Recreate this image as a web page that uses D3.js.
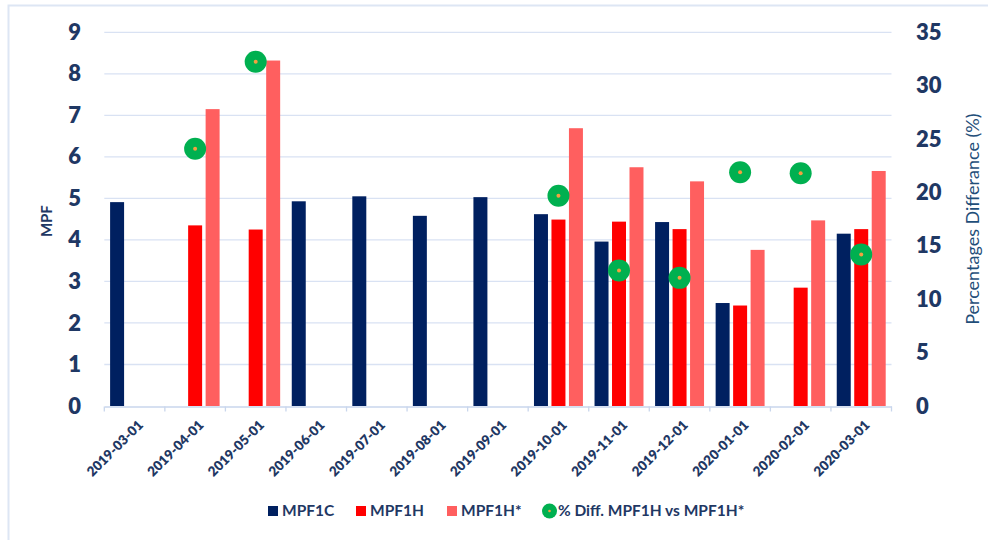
<!DOCTYPE html>
<html>
<head>
<meta charset="utf-8">
<script src="https://cdn.jsdelivr.net/npm/d3@7"></script>
<style>
  html, body { margin: 0; padding: 0; background: #fff; }
  svg { display: block; }
  text { font-family: Lato, "Open Sans", "Noto Sans", sans-serif; }
</style>
</head>
<body>
<svg id="chart" width="988" height="540"></svg>
<script>
// Monthly MPF values per method and the percentage gap between MPF1H and MPF1H*
const months = ["2019-03-01","2019-04-01","2019-05-01","2019-06-01","2019-07-01","2019-08-01","2019-09-01",
                "2019-10-01","2019-11-01","2019-12-01","2020-01-01","2020-02-01","2020-03-01"];
const mpf1c     = [4.91, null, null, 4.93, 5.05, 4.58, 5.03, 4.62, 3.96, 4.43, 2.48, null, 4.15];
const mpf1h     = [null, 4.35, 4.25, null, null, null, null, 4.49, 4.44, 4.26, 2.42, 2.85, 4.26];
const mpf1hStar = [null, 7.15, 8.32, null, null, null, null, 6.69, 5.75, 5.41, 3.76, 4.47, 5.66];
const pctDiff   = [null, 24.1, 32.25, null, null, null, null, 19.7, 12.7, 12.0, 21.9, 21.8, 14.2];
const leftTicks  = [0,1,2,3,4,5,6,7,8,9];
const rightTicks = [0,5,10,15,20,25,30,35];
const seriesNames = ["MPF1C", "MPF1H", "MPF1H*"];
const diffName = "% Diff. MPF1H vs MPF1H*";

const colors = { MPF1C: "#002060", MPF1H: "#ff0000", "MPF1H*": "#ff5f5f" };
const textColor = "#1f3864";
const gridColor = "#d9e2f3";

const svg = d3.select("#chart");
const plot = { left: 104.3, right: 891.5, top: 32.3, bottom: 406 };

// outer frame
svg.append("path")
  .attr("d", `M8.5,540 V5.5 H988`)
  .attr("fill", "none").attr("stroke", "#dde6f4").attr("stroke-width", 2);

const x = d3.scaleBand().domain(months).range([plot.left, plot.right]).paddingInner(0).paddingOuter(0);
const y = d3.scaleLinear().domain([0, 9]).range([plot.bottom, plot.top]);
const y2 = d3.scaleLinear().domain([0, 35]).range([plot.bottom, plot.top]);

// bars within each month slot
const groupInset = 5.8;
const xs = d3.scaleBand().domain(seriesNames)
  .range([groupInset, x.bandwidth() - groupInset]).paddingInner(0.2).paddingOuter(0);

// gridlines
svg.append("g").selectAll("line").data(leftTicks.filter(d => d > 0)).join("line")
  .attr("x1", plot.left).attr("x2", plot.right)
  .attr("y1", d => y(d)).attr("y2", d => y(d))
  .attr("stroke", gridColor).attr("stroke-width", 1.3);

// left axis labels
const leftAxis = d3.axisLeft(y).tickValues(leftTicks).tickSize(0).tickPadding(0).tickFormat(d3.format("d"));
const gl = svg.append("g").attr("transform", `translate(81,0)`).call(leftAxis);
gl.select(".domain").remove();
gl.selectAll("text").attr("fill", textColor).attr("font-size", 22).attr("font-weight", 800)
  .attr("font-family", "Lato, sans-serif");

// right axis labels
const rightAxis = d3.axisRight(y2).tickValues(rightTicks).tickSize(0).tickPadding(0).tickFormat(d3.format("d"));
const gr = svg.append("g").attr("transform", `translate(916,0)`).call(rightAxis);
gr.select(".domain").remove();
gr.selectAll("text").attr("fill", textColor).attr("font-size", 22).attr("font-weight", 800)
  .attr("font-family", "Lato, sans-serif");

// axis titles
svg.append("text").attr("transform", `translate(52,${(plot.top + plot.bottom) / 2 + 2}) rotate(-90)`)
  .attr("text-anchor", "middle").attr("fill", textColor).attr("font-size", 15).attr("font-weight", 700)
  .text("MPF");
svg.append("text").attr("transform", `translate(979,${(plot.top + plot.bottom) / 2}) rotate(-90)`)
  .attr("text-anchor", "middle").attr("fill", "#1f4e79").attr("font-size", 18)
  .text("Percentages Differance (%)");

// bars
const barData = [];
months.forEach((m, i) => {
  [[seriesNames[0], mpf1c[i]], [seriesNames[1], mpf1h[i]], [seriesNames[2], mpf1hStar[i]]].forEach(([s, v]) => {
    if (v != null) barData.push({ m, s, v });
  });
});
svg.append("g").selectAll("rect").data(barData).join("rect")
  .attr("x", d => x(d.m) + xs(d.s))
  .attr("width", xs.bandwidth())
  .attr("y", d => y(d.v))
  .attr("height", d => y(0) - y(d.v))
  .attr("fill", d => colors[d.s]);

// category axis line and ticks
const bottomAxis = d3.axisBottom(x).tickSize(0).tickFormat(d => d);
const gb = svg.append("g").attr("transform", `translate(0,${plot.bottom + 0.5})`).call(bottomAxis);
gb.select(".domain").attr("stroke", "#c9d6ec").attr("stroke-width", 1.3);
gb.selectAll(".tick line").remove();
gb.selectAll(".boundary").data(d3.range(months.length + 1)).join("line")
  .attr("x1", i => plot.left + i * x.bandwidth()).attr("x2", i => plot.left + i * x.bandwidth())
  .attr("y1", 0).attr("y2", 5).attr("stroke", "#c9d6ec").attr("stroke-width", 1.3);
gb.selectAll(".tick text")
  .attr("fill", textColor).attr("font-size", 13.5).attr("font-weight", 800)
  .attr("text-anchor", "end")
  .attr("transform", "translate(6,16) rotate(-45)")
  .attr("dy", "0.35em").attr("y", 0).attr("x", 0);

// percentage difference markers
const dots = months.map((m, i) => ({ m, v: pctDiff[i] })).filter(d => d.v != null);
const dg = svg.append("g");
dg.selectAll("circle.outer").data(dots).join("circle").attr("class", "outer")
  .attr("cx", d => x(d.m) + x.bandwidth() / 2).attr("cy", d => y2(d.v))
  .attr("r", 11).attr("fill", "#00b050");
dg.selectAll("circle.inner").data(dots).join("circle").attr("class", "inner")
  .attr("cx", d => x(d.m) + x.bandwidth() / 2).attr("cy", d => y2(d.v))
  .attr("r", 2).attr("fill", "#f4a040");

// legend
const legendY = 511;
const legendItems = [
  { name: seriesNames[0], x: 268, type: "rect", color: colors.MPF1C },
  { name: seriesNames[1], x: 356, type: "rect", color: colors.MPF1H },
  { name: seriesNames[2], x: 447, type: "rect", color: colors["MPF1H*"] },
  { name: diffName, x: 542, type: "dot", color: "#00b050" }
];
const lg = svg.append("g");
legendItems.forEach(it => {
  if (it.type === "rect") {
    lg.append("rect").attr("x", it.x).attr("y", legendY - 5).attr("width", 10).attr("height", 10).attr("fill", it.color);
    lg.append("text").attr("x", it.x + 14).attr("y", legendY).attr("dy", "0.35em")
      .attr("fill", textColor).attr("font-size", 15.5).attr("font-weight", 700).text(it.name);
  } else {
    lg.append("circle").attr("cx", it.x + 7.5).attr("cy", legendY).attr("r", 7.5).attr("fill", it.color);
    lg.append("circle").attr("cx", it.x + 7.5).attr("cy", legendY).attr("r", 1.3).attr("fill", "#f4a040");
    lg.append("text").attr("x", it.x + 16).attr("y", legendY).attr("dy", "0.35em")
      .attr("fill", textColor).attr("font-size", 15.5).attr("font-weight", 700).text(it.name);
  }
});
</script>
</body>
</html>
